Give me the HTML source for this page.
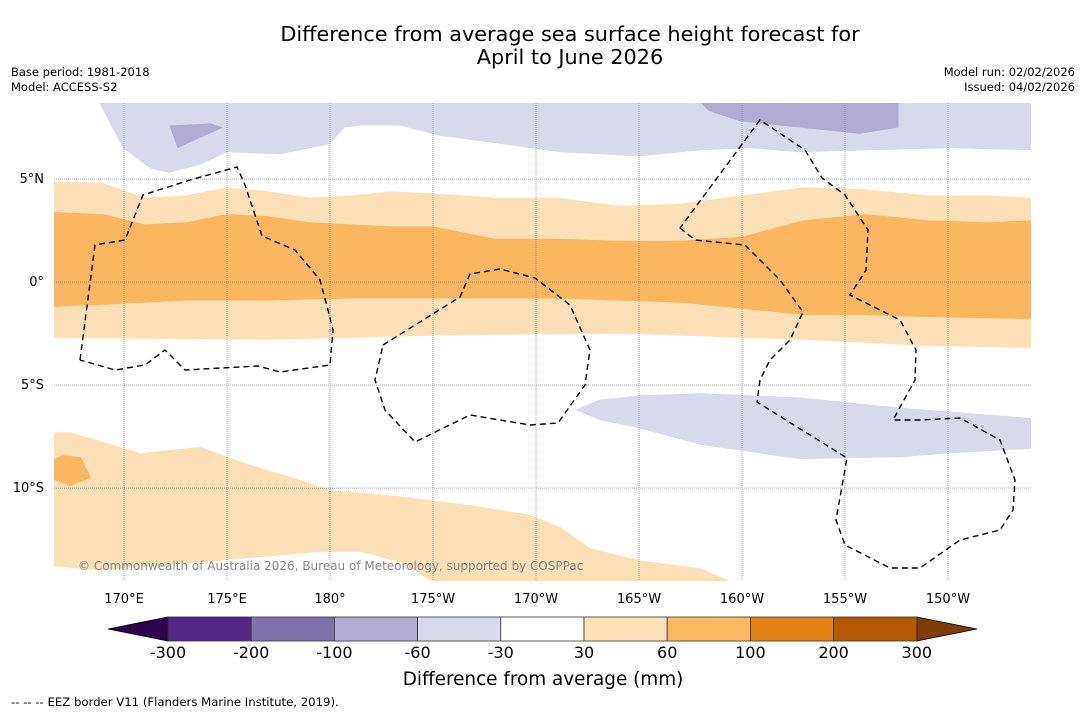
<!DOCTYPE html>
<html><head><meta charset="utf-8"><style>
body{margin:0;background:#fff;width:1085px;height:713px;overflow:hidden;font-family:"DejaVu Sans","Liberation Sans",sans-serif}
svg text{font-family:"DejaVu Sans","Liberation Sans",sans-serif}
</style></head><body>
<svg id="c" width="1085" height="713">
<text x="570" y="41" font-size="20.8" text-anchor="middle">Difference from average sea surface height forecast for</text>
<text x="570" y="64" font-size="20.8" text-anchor="middle">April to June 2026</text>
<text x="11" y="76" font-size="11.5">Base period: 1981-2018</text>
<text x="11" y="91" font-size="11.5">Model: ACCESS-S2</text>
<text x="1075" y="76" font-size="11.5" text-anchor="end">Model run: 02/02/2026</text>
<text x="1075" y="91" font-size="11.5" text-anchor="end">Issued: 04/02/2026</text>
<g id="map"></g>
<g id="cb"></g>
<text x="543" y="685" font-size="18.4" text-anchor="middle">Difference from average (mm)</text>
<text x="11" y="706" font-size="11.7">--  --  -- EEZ border V11 (Flanders Marine Institute, 2019).</text>
</svg>
<script>
// map extent
const lonMin=166.6, lonMax=214.03, latMin=-14.51, latMax=8.69;
const lonTicks=[170,175,180,185,190,195,200,205,210];
const lonTickLabels=["170°E","175°E","180°","175°W","170°W","165°W","160°W","155°W","150°W"];
const latTicks=[5,0,-5,-10];
const latTickLabels=["5°N","0°","5°S","10°S"];
// contour boundaries (lon, lat)
const northPurpleLon=[168.8,169.95,171.3,172.2,173.7,175.0,177.6,180,180.7,181.5,183.4,185.3,188.3,191.2,195,198,200.4,202.8,206.2,210.1,214.03];
const northPurpleLat=[8.69,6.5,5.5,5.3,5.7,6.3,6.2,6.7,7.5,7.6,7.6,7.1,6.7,6.3,6.1,6.4,6.5,6.3,6.4,6.5,6.4];
const patch1Lon=[172.2,174.2,174.8,172.6];
const patch1Lat=[7.6,7.7,7.5,6.5];
const patch2Lon=[198.0,207.6,207.6,205.7,202.8,199.9,198.4];
const patch2Lat=[8.69,8.69,7.5,7.2,7.5,7.8,8.3];
const gridLon=[166.6,169,171,173,175,177,179,181,183,185,188,191,194,197,200,203,206,209,212,214.03];
const c30TopLat=[4.9,4.8,4.1,4.2,4.6,4.4,4.1,4.2,4.4,4.3,4.1,4.1,3.7,3.8,4.2,4.6,4.5,4.2,4.2,4.1];
const c60TopLat=[3.4,3.3,2.8,2.9,3.3,3.2,2.9,2.8,2.7,2.7,2.1,2.1,2.0,2.0,2.2,3.0,3.3,3.0,2.9,3.0];
const c60BotLon=[166.6,169,173,177,181,185,191,197,203,206,209,214.03];
const c60BotLat=[-1.2,-1.1,-0.9,-0.9,-0.8,-0.8,-0.8,-1.0,-1.6,-1.6,-1.7,-1.8];
const c30BotLon=[166.6,177,185,194,203,209,214.03];
const c30BotLat=[-2.7,-2.8,-2.6,-2.5,-2.8,-3.1,-3.2];
const southPurpleLon=[191.9,193.1,195,198,202.8,207.7,214.03,214.03,210.1,207.7,202.8,198,195,193.1];
const southPurpleLat=[-6.2,-5.7,-5.5,-5.4,-5.6,-6.1,-6.6,-8.1,-8.3,-8.5,-8.6,-7.9,-7.1,-6.7];
const southOrangeLon=[166.6,167.4,168.8,170.8,173.7,175.6,178.5,180,183.4,187.3,189.7,191.2,192.6,195,198,199.4,184.9,183.4,181.5,179.5,173.7,168.8,166.6];
const southOrangeLat=[-7.3,-7.3,-7.7,-8.3,-8.0,-8.7,-9.6,-10.1,-10.4,-10.9,-11.3,-11.9,-12.9,-13.5,-13.9,-14.51,-14.51,-13.6,-13.1,-13.1,-13.6,-14.0,-13.8];
const patch3Lon=[166.6,167.0,167.9,168.4,167.4,166.6];
const patch3Lat=[-8.6,-8.4,-8.5,-9.5,-9.9,-9.6];
const cbLabels=["-300","-200","-100","-60","-30","30","60","100","200","300"];
const cbColors=["#542788","#8073ac","#b2abd2","#d8daeb","#ffffff","#fee0b6","#fdb863","#e08214","#b35806"];

const X0=54,X1=1031,Y0=103,Y1=581;
const xs=l=>X0+(l-lonMin)/(lonMax-lonMin)*(X1-X0);
const ys=l=>Y0+(latMax-l)/(latMax-latMin)*(Y1-Y0);
const NS="http://www.w3.org/2000/svg";
const map=document.getElementById('map');
function mk(tag,attrs,parent){const e=document.createElementNS(NS,tag);for(const k in attrs)e.setAttribute(k,attrs[k]);parent.appendChild(e);return e;}
function poly(lons,lats,fill,name){
  const pts=lons.map((l,i)=>xs(l).toFixed(1)+","+ys(lats[i]).toFixed(1)).join(" ");
  const p=mk('polygon',{points:pts,fill:fill,stroke:fill==="#fdb863"?"#e8a75a":"none","stroke-width":0.6},map);
  
  
}
poly(northPurpleLon.concat([214.03,168.8]),northPurpleLat.concat([latMax,latMax]),"#d8d9ea","north-negative-band");
poly(patch1Lon,patch1Lat,"#b1aad1","north-patch-west");
poly(patch2Lon,patch2Lat,"#b1aad1","north-patch-east");
poly(gridLon.concat(c30BotLon.slice().reverse()),c30TopLat.concat(c30BotLat.slice().reverse()),"#fde0b6","equatorial-light-band");
poly(gridLon.concat(c60BotLon.slice().reverse()),c60TopLat.concat(c60BotLat.slice().reverse()),"#fbb661","equatorial-orange-band");
poly(southPurpleLon,southPurpleLat,"#d8d9ea","south-negative-band");
poly(southOrangeLon,southOrangeLat,"#fde0b6","south-light-band");
poly(patch3Lon,patch3Lat,"#fbb661","south-orange-patch");
lonTicks.forEach((l,i)=>{
  const g=mk('line',{x1:xs(l),x2:xs(l),y1:Y0,y2:Y1,stroke:"#777","stroke-width":0.6,"stroke-dasharray":"1,1"},map);
  
  
  const t=mk('text',{x:xs(l),y:603,"font-size":13,"text-anchor":"middle"},map);
  t.textContent=lonTickLabels[i];
  
  
});
latTicks.forEach((l,i)=>{
  const g=mk('line',{x1:X0,x2:X1,y1:ys(l),y2:ys(l),stroke:"#777","stroke-width":0.6,"stroke-dasharray":"1,1"},map);
  
  
  const t=mk('text',{x:44,y:ys(l)+4,"font-size":13,"text-anchor":"end"},map);
  t.textContent=latTickLabels[i];
  
  
});
const eez=["80,360 95,245 125,240 143,195 190,180 237,167 245,185 262,236 295,250 320,280 328,310 333,330 330,365 280,372 258,366 185,370 165,350 145,365 115,370 80,360",
"383,345 460,297 470,274 500,269 535,278 570,305 590,350 585,385 558,423 530,425 470,415 415,442 385,410 375,380 383,345",
"680,228 695,240 745,245 780,280 803,312 790,340 770,360 760,380 757,402 847,458 836,520 845,545 890,568 920,568 960,540 1000,530 1013,510 1015,480 1000,440 960,418 920,420 893,420 915,380 916,350 900,320 850,295 866,270 868,230 845,195 822,178 805,150 760,120 680,228"];
eez.forEach(pts=>{
  const e=mk('polyline',{points:pts,fill:"none",stroke:"#000","stroke-width":1.4,"stroke-dasharray":"6,4"},map);
  
  
});
const cp=mk('text',{x:78,y:570,"font-size":12,fill:"#888"},map);
cp.textContent="© Commonwealth of Australia 2026, Bureau of Meteorology, supported by COSPPac";


const cb=document.getElementById('cb');
const bx0=168,bw=83.2,by=617,bh=24;
const lt=mk('polygon',{points:`108,629 ${bx0},${by} ${bx0},${by+bh}`,fill:"#2d004b",stroke:"#000","stroke-width":0.8},cb);


const rx=bx0+bw*cbColors.length;
const rt=mk('polygon',{points:`${rx},${by} 977,629 ${rx},${by+bh}`,fill:"#7f3b08",stroke:"#000","stroke-width":0.8},cb);


cbColors.forEach((c,i)=>{
  const r=mk('rect',{x:bx0+i*bw,y:by,width:bw,height:bh,fill:c,stroke:"#333","stroke-width":0.8},cb);
  
  
});
cbLabels.forEach((s,i)=>{
  const t=mk('text',{x:bx0+i*bw,y:658,"font-size":16,"text-anchor":"middle"},cb);
  t.textContent=s;
  
  
});
</script>
</body></html>
